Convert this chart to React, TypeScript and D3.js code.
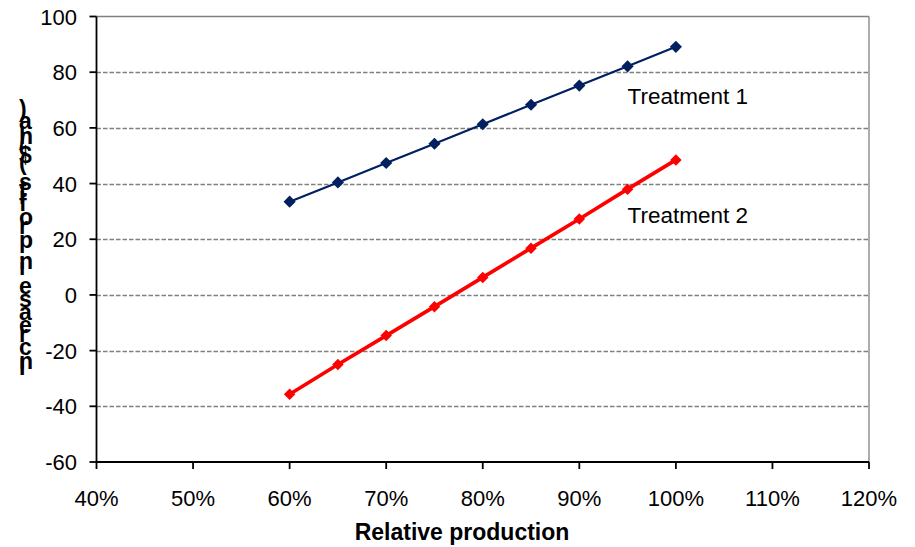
import React from "react";
import * as d3 from "d3";

const production = [0.6, 0.65, 0.7, 0.75, 0.8, 0.85, 0.9, 0.95, 1.0];
const treatment1 = [33.5, 40.4, 47.4, 54.3, 61.3, 68.3, 75.2, 82.1, 89.1];
const treatment2 = [-35.7, -25.0, -14.6, -4.2, 6.3, 16.8, 27.3, 38.0, 48.5];
const xTicks = [0.4, 0.5, 0.6, 0.7, 0.8, 0.9, 1.0, 1.1, 1.2];
const yTicks = [-60, -40, -20, 0, 20, 40, 60, 80, 100];
const seriesNames = ["Treatment 1", "Treatment 2"];
const xTitle = "Relative production";
const yTitle = "Increase in profits ($/ha)";

const W = 915;
const H = 547;
const L = 96.5;
const R = 869;
const T = 16.5;
const B = 462;
const FONT = "Arial, 'Liberation Sans', sans-serif";

export default function App() {
  const x = d3.scaleLinear().domain([0.4, 1.2]).range([L, R]);
  const y = d3.scaleLinear().domain([-60, 100]).range([B, T]);
  const line = d3
    .line<[number, number]>()
    .x((d) => x(d[0]))
    .y((d) => y(d[1]));
  const s1 = production.map((p, i) => [p, treatment1[i]] as [number, number]);
  const s2 = production.map((p, i) => [p, treatment2[i]] as [number, number]);
  const diamond1 = d3.symbol(d3.symbolSquare, 74)() as string;
  const diamond2 = d3.symbol(d3.symbolSquare, 66)() as string;

  return (
    <svg
      width={W}
      height={H}
      style={{ position: "absolute", left: 0, top: 0, background: "#fff" }}
      fontFamily={FONT}
    >
      {/* grid */}
      {yTicks
        .filter((t) => t > -60 && t < 100)
        .map((t) => (
          <line
            key={t}
            x1={L}
            x2={R}
            y1={Math.round(y(t)) + 0.5}
            y2={Math.round(y(t)) + 0.5}
            stroke="#808080"
            strokeWidth={1.3}
            strokeDasharray="4.5,2"
          />
        ))}
      <line x1={L} x2={R} y1={y(100)} y2={y(100)} stroke="#808080" strokeWidth={1.3} />
      <line x1={R} x2={R} y1={y(100)} y2={y(-60)} stroke="#808080" strokeWidth={1.3} />

      {/* axes */}
      <line x1={L} x2={L} y1={y(100)} y2={y(-60)} stroke="#000" strokeWidth={1.8} />
      <line x1={L} x2={R} y1={y(-60)} y2={y(-60)} stroke="#000" strokeWidth={1.8} />
      {yTicks.map((t) => (
        <g key={t}>
          <line x1={L - 7} x2={L} y1={y(t)} y2={y(t)} stroke="#000" strokeWidth={1.8} />
          <text x={77} y={y(t) + 8} textAnchor="end" fontSize={22} fill="#000">
            {t}
          </text>
        </g>
      ))}
      {xTicks.map((t) => (
        <g key={t}>
          <line x1={x(t)} x2={x(t)} y1={B} y2={B + 7} stroke="#000" strokeWidth={1.8} />
          <text x={x(t)} y={506} textAnchor="middle" fontSize={22} fill="#000">
            {d3.format(".0%")(t)}
          </text>
        </g>
      ))}

      {/* series */}
      <path d={line(s1) as string} fill="none" stroke="#002060" strokeWidth={2.2} />
      {s1.map((d, i) => (
        <path
          key={i}
          d={diamond1}
          transform={`translate(${x(d[0])},${y(d[1])}) rotate(45)`}
          fill="#002060"
        />
      ))}
      <path d={line(s2) as string} fill="none" stroke="#ff0000" strokeWidth={3.6} />
      {s2.map((d, i) => (
        <path
          key={i}
          d={diamond2}
          transform={`translate(${x(d[0])},${y(d[1])}) rotate(45)`}
          fill="#ff0000"
        />
      ))}

      {/* series labels */}
      <text x={627.5} y={104} fontSize={22.5} fill="#000">
        {seriesNames[0]}
      </text>
      <text x={627.5} y={223} fontSize={22.5} fill="#000">
        {seriesNames[1]}
      </text>

      {/* titles */}
      <text x={462} y={540} textAnchor="middle" fontSize={23} fontWeight="bold" fill="#000">
        {xTitle}
      </text>
      <g transform="translate(19,375) rotate(-90)">
        <text x={0} y={0} rotate="90" fontSize={23} fontWeight="bold" fill="#000">
          {yTitle}
        </text>
      </g>
    </svg>
  );
}
